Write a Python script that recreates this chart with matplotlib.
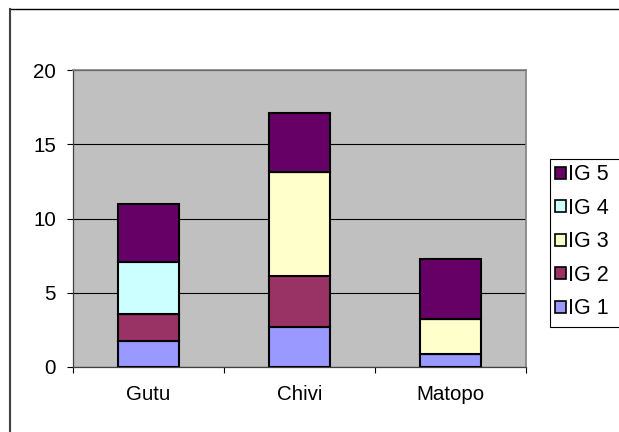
import matplotlib
matplotlib.use("Agg")
import matplotlib.pyplot as plt
import numpy as np
from matplotlib.lines import Line2D
from matplotlib.patches import Patch, Rectangle

plt.rcParams["font.family"] = ["Liberation Sans", "DejaVu Sans"]

# ===================== DATA =====================
sites = ["Gutu", "Chivi", "Matopo"]
series = ["IG 1", "IG 2", "IG 3", "IG 4", "IG 5"]
ig1 = [1.77, 2.71, 0.88]
ig2 = [1.78, 3.42, 0.0]
ig3 = [0.0, 6.98, 2.33]
ig4 = [3.52, 0.0, 0.0]
ig5 = [3.91, 4.01, 4.04]
yticks = [0, 5, 10, 15, 20]

colors = ["#9999FF", "#993366", "#FFFFCC", "#CCFFFF", "#660066"]
FS = 14.8

# ===================== FIGURE =====================
W, H = 619, 432
fig = plt.figure(figsize=(W / 100, H / 100), dpi=100)

ax = fig.add_axes([73 / W, 1 - 367 / H, 453 / W, 297 / H])
ax.set_facecolor("#C0C0C0")

x = np.arange(len(sites))
bottom = np.zeros(len(sites))
handles = []
for vals, name, col in zip([ig1, ig2, ig3, ig4, ig5], series, colors):
    vals = np.array(vals)
    ax.bar(x, vals, width=0.40, bottom=bottom, color=col,
           edgecolor="black", linewidth=1.5, zorder=3)
    bottom = bottom + vals
    handles.append(Patch(facecolor=col, edgecolor="black", linewidth=1.2, label=name))

ax.set_xlim(-0.5, 2.5)
ax.set_ylim(0, 20)

ax.set_yticks(yticks)
ax.yaxis.grid(True, color="black", linewidth=0.8, zorder=1)
ax.set_axisbelow(True)

# category ticks between groups, labels centered
ax.set_xticks([-0.5, 0.5, 1.5, 2.5])
ax.set_xticklabels([])
ax.set_xticks(x, minor=True)
ax.set_xticklabels(sites, minor=True)
ax.tick_params(axis="x", which="minor", length=0, pad=13, labelsize=FS)
ax.tick_params(axis="x", which="major", length=4.3, width=0.8, direction="out")
ax.tick_params(axis="y", length=4.3, width=0.8, direction="out", pad=8, labelsize=FS)

for side in ["top", "right"]:
    ax.spines[side].set_color("#808080")
    ax.spines[side].set_linewidth(1.2)
for side in ["left", "bottom"]:
    ax.spines[side].set_color("#404040")
    ax.spines[side].set_linewidth(0.9)

# ===================== LEGEND =====================
# legend box runs past the right edge of the chart, so draw the frame by hand
fig.add_artist(Rectangle((550 / W, 1 - 327 / H), 100 / W, 168 / H,
                         transform=fig.transFigure, facecolor="white",
                         edgecolor="black", linewidth=0.8, zorder=1))
leg = fig.legend(handles=handles[::-1], loc="upper left",
                 bbox_to_anchor=(550 / W, 1 - 159 / H),
                 fontsize=15.5, frameon=False,
                 handlelength=0.47, handleheight=0.47, handletextpad=0.1,
                 labelspacing=0.58, borderpad=0.25, borderaxespad=0)
leg.set_zorder(2)

# ===================== OUTER CHART BORDER =====================
fig.add_artist(Line2D([9.5 / W, 1.0], [1 - 9 / H, 1 - 9 / H],
                      transform=fig.transFigure, color="black", linewidth=1.0))
fig.add_artist(Line2D([10 / W, 10 / W], [0.0, 1 - 9 / H],
                      transform=fig.transFigure, color="#404040", linewidth=1.5))

fig.savefig("out.png", dpi=100)
